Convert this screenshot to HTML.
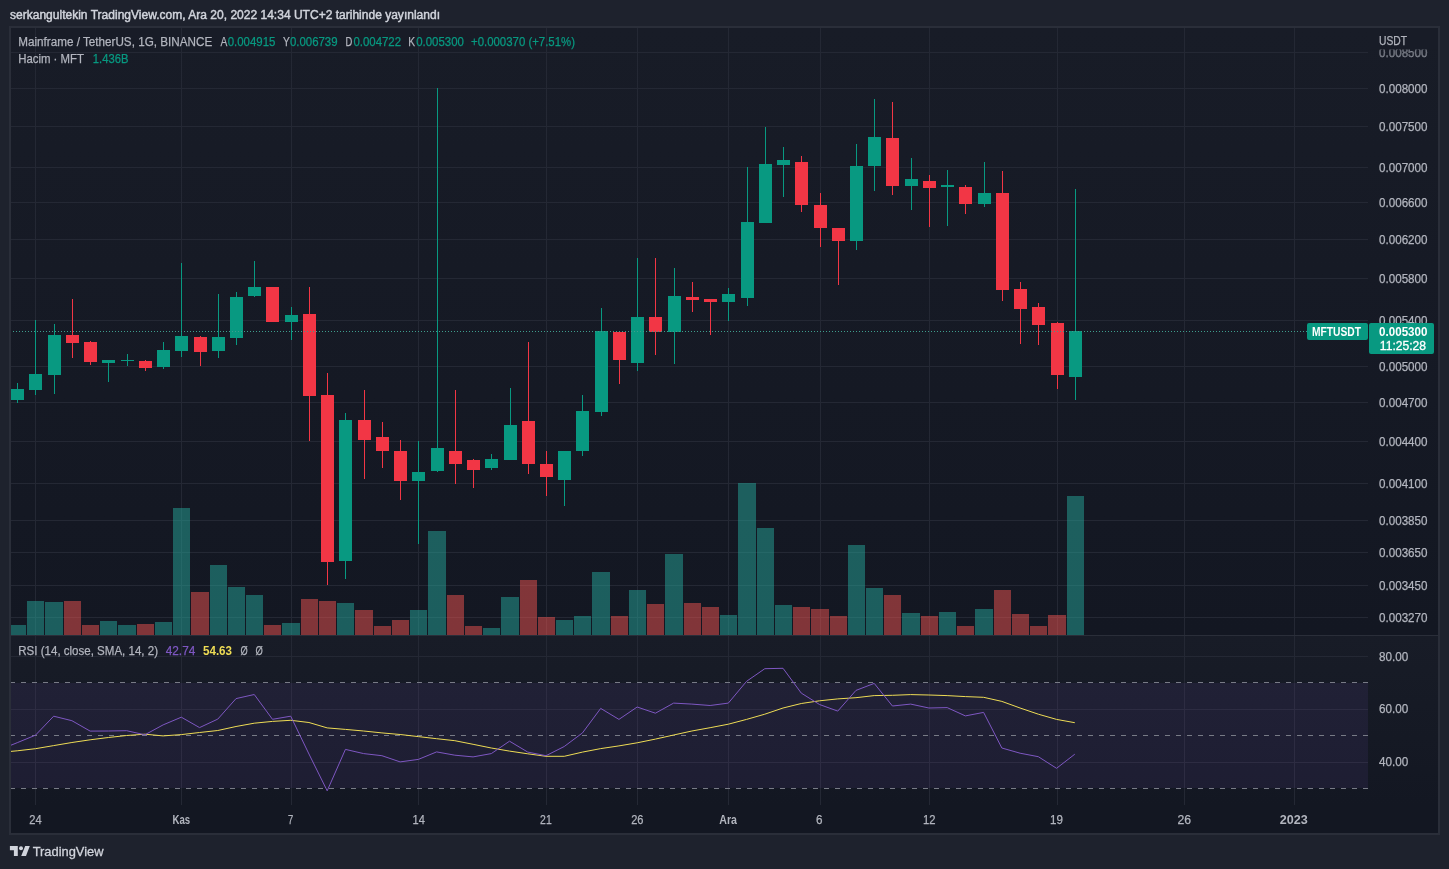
<!DOCTYPE html>
<html><head><meta charset="utf-8"><title>MFTUSDT chart</title>
<style>html,body{margin:0;padding:0;background:#1e222d;width:1449px;height:869px;overflow:hidden}svg{display:block}</style>
</head><body><svg width="1449" height="869" viewBox="0 0 1449 869"><rect x="9" y="26" width="1431" height="809" fill="#2a2e39"/><defs><linearGradient id="gm" x1="0" y1="0" x2="0" y2="1"><stop offset="0" stop-color="#181c27"/><stop offset="1" stop-color="#131722"/></linearGradient></defs><rect x="11" y="28" width="1427" height="805" fill="#131722"/><rect x="11" y="28" width="1427" height="607" fill="url(#gm)"/><rect x="11" y="636" width="1427" height="169" fill="url(#gm)"/><defs><clipPath id="cm"><rect x="11" y="28" width="1357" height="607"/></clipPath><clipPath id="cr"><rect x="11" y="636" width="1357" height="169"/></clipPath></defs><g fill="#242834" shape-rendering="crispEdges"><rect x="35" y="28" width="1" height="777"/><rect x="181" y="28" width="1" height="777"/><rect x="291" y="28" width="1" height="777"/><rect x="418" y="28" width="1" height="777"/><rect x="546" y="28" width="1" height="777"/><rect x="637" y="28" width="1" height="777"/><rect x="728" y="28" width="1" height="777"/><rect x="820" y="28" width="1" height="777"/><rect x="929" y="28" width="1" height="777"/><rect x="1057" y="28" width="1" height="777"/><rect x="1184" y="28" width="1" height="777"/><rect x="1294" y="28" width="1" height="777"/></g><g fill="#242834" shape-rendering="crispEdges"><rect x="11" y="52" width="1357" height="1"/><rect x="11" y="88" width="1357" height="1"/><rect x="11" y="126" width="1357" height="1"/><rect x="11" y="167" width="1357" height="1"/><rect x="11" y="202" width="1357" height="1"/><rect x="11" y="239" width="1357" height="1"/><rect x="11" y="278" width="1357" height="1"/><rect x="11" y="320" width="1357" height="1"/><rect x="11" y="366" width="1357" height="1"/><rect x="11" y="402" width="1357" height="1"/><rect x="11" y="441" width="1357" height="1"/><rect x="11" y="483" width="1357" height="1"/><rect x="11" y="520" width="1357" height="1"/><rect x="11" y="552" width="1357" height="1"/><rect x="11" y="585" width="1357" height="1"/><rect x="11" y="617" width="1357" height="1"/><rect x="11" y="656" width="1357" height="1"/><rect x="11" y="709" width="1357" height="1"/><rect x="11" y="762" width="1357" height="1"/></g><g clip-path="url(#cm)" shape-rendering="crispEdges"><rect x="9" y="625" width="17" height="10" fill="rgba(38,166,154,0.5)"/><rect x="27" y="601" width="17" height="34" fill="rgba(38,166,154,0.5)"/><rect x="45" y="602" width="18" height="33" fill="rgba(38,166,154,0.5)"/><rect x="64" y="601" width="17" height="34" fill="rgba(239,83,80,0.5)"/><rect x="82" y="625" width="17" height="10" fill="rgba(239,83,80,0.5)"/><rect x="100" y="621" width="17" height="14" fill="rgba(38,166,154,0.5)"/><rect x="118" y="625" width="18" height="10" fill="rgba(38,166,154,0.5)"/><rect x="137" y="624" width="17" height="11" fill="rgba(239,83,80,0.5)"/><rect x="155" y="622" width="17" height="13" fill="rgba(38,166,154,0.5)"/><rect x="173" y="508" width="17" height="127" fill="rgba(38,166,154,0.5)"/><rect x="191" y="592" width="18" height="43" fill="rgba(239,83,80,0.5)"/><rect x="210" y="565" width="17" height="70" fill="rgba(38,166,154,0.5)"/><rect x="228" y="587" width="17" height="48" fill="rgba(38,166,154,0.5)"/><rect x="246" y="595" width="17" height="40" fill="rgba(38,166,154,0.5)"/><rect x="264" y="625" width="17" height="10" fill="rgba(239,83,80,0.5)"/><rect x="282" y="623" width="18" height="12" fill="rgba(38,166,154,0.5)"/><rect x="301" y="599" width="17" height="36" fill="rgba(239,83,80,0.5)"/><rect x="319" y="601" width="17" height="34" fill="rgba(239,83,80,0.5)"/><rect x="337" y="603" width="17" height="32" fill="rgba(38,166,154,0.5)"/><rect x="355" y="610" width="18" height="25" fill="rgba(239,83,80,0.5)"/><rect x="374" y="626" width="17" height="9" fill="rgba(239,83,80,0.5)"/><rect x="392" y="620" width="17" height="15" fill="rgba(239,83,80,0.5)"/><rect x="410" y="610" width="17" height="25" fill="rgba(38,166,154,0.5)"/><rect x="428" y="531" width="18" height="104" fill="rgba(38,166,154,0.5)"/><rect x="447" y="595" width="17" height="40" fill="rgba(239,83,80,0.5)"/><rect x="465" y="626" width="17" height="9" fill="rgba(239,83,80,0.5)"/><rect x="483" y="628" width="17" height="7" fill="rgba(38,166,154,0.5)"/><rect x="501" y="597" width="18" height="38" fill="rgba(38,166,154,0.5)"/><rect x="520" y="580" width="17" height="55" fill="rgba(239,83,80,0.5)"/><rect x="538" y="617" width="17" height="18" fill="rgba(239,83,80,0.5)"/><rect x="556" y="620" width="17" height="15" fill="rgba(38,166,154,0.5)"/><rect x="574" y="616" width="17" height="19" fill="rgba(38,166,154,0.5)"/><rect x="592" y="572" width="18" height="63" fill="rgba(38,166,154,0.5)"/><rect x="611" y="616" width="17" height="19" fill="rgba(239,83,80,0.5)"/><rect x="629" y="590" width="17" height="45" fill="rgba(38,166,154,0.5)"/><rect x="647" y="604" width="17" height="31" fill="rgba(239,83,80,0.5)"/><rect x="665" y="554" width="18" height="81" fill="rgba(38,166,154,0.5)"/><rect x="684" y="603" width="17" height="32" fill="rgba(239,83,80,0.5)"/><rect x="702" y="607" width="17" height="28" fill="rgba(239,83,80,0.5)"/><rect x="720" y="615" width="17" height="20" fill="rgba(38,166,154,0.5)"/><rect x="738" y="483" width="18" height="152" fill="rgba(38,166,154,0.5)"/><rect x="757" y="528" width="17" height="107" fill="rgba(38,166,154,0.5)"/><rect x="775" y="605" width="17" height="30" fill="rgba(38,166,154,0.5)"/><rect x="793" y="607" width="17" height="28" fill="rgba(239,83,80,0.5)"/><rect x="811" y="609" width="18" height="26" fill="rgba(239,83,80,0.5)"/><rect x="830" y="616" width="17" height="19" fill="rgba(239,83,80,0.5)"/><rect x="848" y="545" width="17" height="90" fill="rgba(38,166,154,0.5)"/><rect x="866" y="588" width="17" height="47" fill="rgba(38,166,154,0.5)"/><rect x="884" y="595" width="17" height="40" fill="rgba(239,83,80,0.5)"/><rect x="902" y="613" width="18" height="22" fill="rgba(38,166,154,0.5)"/><rect x="921" y="616" width="17" height="19" fill="rgba(239,83,80,0.5)"/><rect x="939" y="612" width="17" height="23" fill="rgba(38,166,154,0.5)"/><rect x="957" y="626" width="17" height="9" fill="rgba(239,83,80,0.5)"/><rect x="975" y="609" width="18" height="26" fill="rgba(38,166,154,0.5)"/><rect x="994" y="590" width="17" height="45" fill="rgba(239,83,80,0.5)"/><rect x="1012" y="614" width="17" height="21" fill="rgba(239,83,80,0.5)"/><rect x="1030" y="626" width="17" height="9" fill="rgba(239,83,80,0.5)"/><rect x="1048" y="615" width="18" height="20" fill="rgba(239,83,80,0.5)"/><rect x="1067" y="496" width="17" height="139" fill="rgba(38,166,154,0.5)"/></g><g clip-path="url(#cm)" shape-rendering="crispEdges"><rect x="17" y="383" width="1" height="20" fill="#089981"/><rect x="11" y="389" width="13" height="11" fill="#089981"/><rect x="35" y="320" width="1" height="75" fill="#089981"/><rect x="29" y="374" width="13" height="16" fill="#089981"/><rect x="54" y="324" width="1" height="70" fill="#089981"/><rect x="48" y="335" width="13" height="40" fill="#089981"/><rect x="72" y="299" width="1" height="59" fill="#f23645"/><rect x="66" y="335" width="13" height="8" fill="#f23645"/><rect x="90" y="341" width="1" height="24" fill="#f23645"/><rect x="84" y="342" width="13" height="20" fill="#f23645"/><rect x="108" y="360" width="1" height="22" fill="#089981"/><rect x="102" y="360" width="13" height="3" fill="#089981"/><rect x="127" y="354" width="1" height="12" fill="#089981"/><rect x="121" y="360" width="13" height="1" fill="#089981"/><rect x="145" y="360" width="1" height="11" fill="#f23645"/><rect x="139" y="361" width="13" height="7" fill="#f23645"/><rect x="163" y="342" width="1" height="27" fill="#089981"/><rect x="157" y="350" width="13" height="17" fill="#089981"/><rect x="181" y="263" width="1" height="94" fill="#089981"/><rect x="175" y="336" width="13" height="15" fill="#089981"/><rect x="200" y="336" width="1" height="30" fill="#f23645"/><rect x="194" y="337" width="13" height="15" fill="#f23645"/><rect x="218" y="294" width="1" height="64" fill="#089981"/><rect x="212" y="337" width="13" height="14" fill="#089981"/><rect x="236" y="292" width="1" height="53" fill="#089981"/><rect x="230" y="297" width="13" height="41" fill="#089981"/><rect x="254" y="261" width="1" height="36" fill="#089981"/><rect x="248" y="287" width="13" height="9" fill="#089981"/><rect x="272" y="287" width="1" height="35" fill="#f23645"/><rect x="266" y="287" width="13" height="35" fill="#f23645"/><rect x="291" y="307" width="1" height="33" fill="#089981"/><rect x="285" y="315" width="13" height="7" fill="#089981"/><rect x="309" y="287" width="1" height="154" fill="#f23645"/><rect x="303" y="314" width="13" height="82" fill="#f23645"/><rect x="327" y="373" width="1" height="212" fill="#f23645"/><rect x="321" y="395" width="13" height="167" fill="#f23645"/><rect x="345" y="413" width="1" height="166" fill="#089981"/><rect x="339" y="420" width="13" height="141" fill="#089981"/><rect x="364" y="390" width="1" height="89" fill="#f23645"/><rect x="358" y="420" width="13" height="20" fill="#f23645"/><rect x="382" y="422" width="1" height="46" fill="#f23645"/><rect x="376" y="437" width="13" height="14" fill="#f23645"/><rect x="400" y="440" width="1" height="60" fill="#f23645"/><rect x="394" y="451" width="13" height="30" fill="#f23645"/><rect x="418" y="441" width="1" height="103" fill="#089981"/><rect x="412" y="472" width="13" height="9" fill="#089981"/><rect x="437" y="88" width="1" height="384" fill="#089981"/><rect x="431" y="448" width="13" height="23" fill="#089981"/><rect x="455" y="390" width="1" height="94" fill="#f23645"/><rect x="449" y="451" width="13" height="13" fill="#f23645"/><rect x="473" y="459" width="1" height="29" fill="#f23645"/><rect x="467" y="460" width="13" height="10" fill="#f23645"/><rect x="491" y="454" width="1" height="16" fill="#089981"/><rect x="485" y="459" width="13" height="9" fill="#089981"/><rect x="510" y="388" width="1" height="72" fill="#089981"/><rect x="504" y="425" width="13" height="35" fill="#089981"/><rect x="528" y="342" width="1" height="132" fill="#f23645"/><rect x="522" y="421" width="13" height="43" fill="#f23645"/><rect x="546" y="451" width="1" height="45" fill="#f23645"/><rect x="540" y="464" width="13" height="13" fill="#f23645"/><rect x="564" y="451" width="1" height="55" fill="#089981"/><rect x="558" y="451" width="13" height="29" fill="#089981"/><rect x="582" y="395" width="1" height="61" fill="#089981"/><rect x="576" y="411" width="13" height="40" fill="#089981"/><rect x="601" y="308" width="1" height="108" fill="#089981"/><rect x="595" y="331" width="13" height="81" fill="#089981"/><rect x="619" y="331" width="1" height="53" fill="#f23645"/><rect x="613" y="332" width="13" height="28" fill="#f23645"/><rect x="637" y="258" width="1" height="113" fill="#089981"/><rect x="631" y="317" width="13" height="46" fill="#089981"/><rect x="655" y="258" width="1" height="97" fill="#f23645"/><rect x="649" y="317" width="13" height="15" fill="#f23645"/><rect x="674" y="268" width="1" height="96" fill="#089981"/><rect x="668" y="296" width="13" height="36" fill="#089981"/><rect x="692" y="282" width="1" height="30" fill="#f23645"/><rect x="686" y="297" width="13" height="3" fill="#f23645"/><rect x="710" y="299" width="1" height="36" fill="#f23645"/><rect x="704" y="299" width="13" height="3" fill="#f23645"/><rect x="728" y="288" width="1" height="33" fill="#089981"/><rect x="722" y="294" width="13" height="8" fill="#089981"/><rect x="747" y="167" width="1" height="139" fill="#089981"/><rect x="741" y="222" width="13" height="76" fill="#089981"/><rect x="765" y="127" width="1" height="96" fill="#089981"/><rect x="759" y="164" width="13" height="59" fill="#089981"/><rect x="783" y="147" width="1" height="50" fill="#089981"/><rect x="777" y="160" width="13" height="5" fill="#089981"/><rect x="801" y="156" width="1" height="56" fill="#f23645"/><rect x="795" y="162" width="13" height="43" fill="#f23645"/><rect x="820" y="193" width="1" height="54" fill="#f23645"/><rect x="814" y="205" width="13" height="23" fill="#f23645"/><rect x="838" y="228" width="1" height="57" fill="#f23645"/><rect x="832" y="228" width="13" height="13" fill="#f23645"/><rect x="856" y="144" width="1" height="106" fill="#089981"/><rect x="850" y="166" width="13" height="75" fill="#089981"/><rect x="874" y="99" width="1" height="92" fill="#089981"/><rect x="868" y="137" width="13" height="29" fill="#089981"/><rect x="892" y="102" width="1" height="93" fill="#f23645"/><rect x="886" y="138" width="13" height="48" fill="#f23645"/><rect x="911" y="158" width="1" height="52" fill="#089981"/><rect x="905" y="179" width="13" height="7" fill="#089981"/><rect x="929" y="175" width="1" height="52" fill="#f23645"/><rect x="923" y="181" width="13" height="7" fill="#f23645"/><rect x="947" y="170" width="1" height="56" fill="#089981"/><rect x="941" y="185" width="13" height="2" fill="#089981"/><rect x="965" y="185" width="1" height="29" fill="#f23645"/><rect x="959" y="187" width="13" height="17" fill="#f23645"/><rect x="984" y="162" width="1" height="45" fill="#089981"/><rect x="978" y="193" width="13" height="11" fill="#089981"/><rect x="1002" y="171" width="1" height="130" fill="#f23645"/><rect x="996" y="193" width="13" height="97" fill="#f23645"/><rect x="1020" y="282" width="1" height="62" fill="#f23645"/><rect x="1014" y="289" width="13" height="20" fill="#f23645"/><rect x="1038" y="303" width="1" height="42" fill="#f23645"/><rect x="1032" y="307" width="13" height="18" fill="#f23645"/><rect x="1057" y="322" width="1" height="67" fill="#f23645"/><rect x="1051" y="323" width="13" height="52" fill="#f23645"/><rect x="1075" y="189" width="1" height="211" fill="#089981"/><rect x="1069" y="331" width="13" height="46" fill="#089981"/></g><line x1="11" y1="331.5" x2="1368" y2="331.5" stroke="#3e9d8d" stroke-width="1" stroke-dasharray="1 2" stroke-dashoffset="1" shape-rendering="crispEdges"/><rect x="11" y="635" width="1427" height="1" fill="#2a2e39"/><rect x="11" y="683" width="1357" height="105" fill="#7e57c2" fill-opacity="0.1"/><line x1="11" y1="682.5" x2="1368" y2="682.5" stroke="#787b86" stroke-width="1" stroke-dasharray="5 6" stroke-dashoffset="1" shape-rendering="crispEdges"/><line x1="11" y1="735.5" x2="1368" y2="735.5" stroke="#787b86" stroke-width="1" stroke-dasharray="5 6" stroke-dashoffset="1" shape-rendering="crispEdges"/><line x1="11" y1="788.5" x2="1368" y2="788.5" stroke="#787b86" stroke-width="1" stroke-dasharray="5 6" stroke-dashoffset="1" shape-rendering="crispEdges"/><g clip-path="url(#cr)"><polyline points="-1.02,752.5 17.22,750.8 35.45,748.7 53.68,745.6 71.92,742.5 90.15,739.8 108.39,737.5 126.62,735.5 144.85,734.2 163.09,735.9 181.32,734.6 199.56,732.5 217.79,730.5 236.02,726.5 254.26,723.2 272.49,721.4 290.73,720.3 308.96,722.5 327.19,727.9 345.43,729.4 363.66,731 381.90,732.9 400.13,734.5 418.36,736.6 436.60,738.7 454.83,740.7 473.07,744.3 491.30,748 509.53,751.1 527.77,753.8 546.00,756.3 564.24,756.3 582.47,752.1 600.70,748.6 618.94,745.9 637.17,742.8 655.41,739.1 673.64,735 691.87,731 710.11,727.7 728.34,724.2 746.58,719.4 764.81,714.2 783.04,708 801.28,703.5 819.51,700.8 837.75,698.9 855.98,697.7 874.21,695.6 892.45,695.3 910.68,694.6 928.92,695 947.15,695.6 965.38,696.6 983.62,697.3 1001.85,701.4 1020.09,708 1038.32,714.2 1056.55,719.4 1074.79,722.7" fill="none" stroke="#eedc55" stroke-width="1" stroke-linejoin="round"/><polyline points="-1.02,750 17.22,742.7 35.45,735.2 53.68,716.2 71.92,720.7 90.15,731.1 108.39,731 126.62,730.7 144.85,734.8 163.09,724.9 181.32,717.2 199.56,727.6 217.79,719.1 236.02,698.6 254.26,694.5 272.49,719.3 290.73,716.2 308.96,754 327.19,790.8 345.43,749.4 363.66,753.6 381.90,755.7 400.13,761.9 418.36,759.4 436.60,751.9 454.83,755.2 473.07,756.9 491.30,753.6 509.53,741.2 527.77,752.1 546.00,755.7 564.24,746.5 582.47,732.9 600.70,708.4 618.94,719.4 637.17,707 655.41,713.2 673.64,703.1 691.87,704.1 710.11,705.5 728.34,703.1 746.58,681.3 764.81,668.7 783.04,668.3 801.28,693.1 819.51,704.5 837.75,711.1 855.98,690.4 874.21,683.4 892.45,706 910.68,704.1 928.92,708 947.15,707.6 965.38,715.9 983.62,712.4 1001.85,748 1020.09,753.2 1038.32,756.7 1056.55,768.3 1074.79,754.2" fill="none" stroke="#7e57c2" stroke-width="1" stroke-linejoin="round"/></g><g font-family="'Liberation Sans', Arial, sans-serif" font-size="12.5" fill="#b2b5be" stroke="#b2b5be" stroke-width="0.25"><text x="1379" y="57.0" textLength="48.5" lengthAdjust="spacingAndGlyphs" fill-opacity="0.45">0.008500</text><text x="1379" y="93.0" textLength="48.5" lengthAdjust="spacingAndGlyphs">0.008000</text><text x="1379" y="131.0" textLength="48.5" lengthAdjust="spacingAndGlyphs">0.007500</text><text x="1379" y="172.0" textLength="48.5" lengthAdjust="spacingAndGlyphs">0.007000</text><text x="1379" y="207.0" textLength="48.5" lengthAdjust="spacingAndGlyphs">0.006600</text><text x="1379" y="244.0" textLength="48.5" lengthAdjust="spacingAndGlyphs">0.006200</text><text x="1379" y="283.0" textLength="48.5" lengthAdjust="spacingAndGlyphs">0.005800</text><text x="1379" y="325.0" textLength="48.5" lengthAdjust="spacingAndGlyphs">0.005400</text><text x="1379" y="371.0" textLength="48.5" lengthAdjust="spacingAndGlyphs">0.005000</text><text x="1379" y="407.0" textLength="48.5" lengthAdjust="spacingAndGlyphs">0.004700</text><text x="1379" y="446.0" textLength="48.5" lengthAdjust="spacingAndGlyphs">0.004400</text><text x="1379" y="488.0" textLength="48.5" lengthAdjust="spacingAndGlyphs">0.004100</text><text x="1379" y="525.0" textLength="48.5" lengthAdjust="spacingAndGlyphs">0.003850</text><text x="1379" y="557.0" textLength="48.5" lengthAdjust="spacingAndGlyphs">0.003650</text><text x="1379" y="590.0" textLength="48.5" lengthAdjust="spacingAndGlyphs">0.003450</text><text x="1379" y="622.0" textLength="48.5" lengthAdjust="spacingAndGlyphs">0.003270</text><text x="1379" y="661.0" textLength="29.3" lengthAdjust="spacingAndGlyphs">80.00</text><text x="1379" y="713.0" textLength="29.3" lengthAdjust="spacingAndGlyphs">60.00</text><text x="1379" y="766.0" textLength="29.3" lengthAdjust="spacingAndGlyphs">40.00</text></g><rect x="1369" y="28" width="69" height="21.5" fill="#181c27"/><text x="1379" y="45" font-family="'Liberation Sans', Arial, sans-serif" font-size="12.5" fill="#b2b5be" stroke="#b2b5be" stroke-width="0.25" textLength="28" lengthAdjust="spacingAndGlyphs">USDT</text><g font-family="'Liberation Sans', Arial, sans-serif" font-size="12.5" fill="#b2b5be" stroke="#b2b5be" stroke-width="0.25"><text x="29.3" y="823.7" textLength="12.4" lengthAdjust="spacingAndGlyphs">24</text><text x="172.6" y="823.7" textLength="17.6" lengthAdjust="spacingAndGlyphs" font-weight="bold" stroke-width="0">Kas</text><text x="288.1" y="823.7" textLength="5.2" lengthAdjust="spacingAndGlyphs">7</text><text x="412.6" y="823.7" textLength="12.3" lengthAdjust="spacingAndGlyphs">14</text><text x="540.1" y="823.7" textLength="11.6" lengthAdjust="spacingAndGlyphs">21</text><text x="631.2" y="823.7" textLength="12.3" lengthAdjust="spacingAndGlyphs">26</text><text x="719.3" y="823.7" textLength="17.7" lengthAdjust="spacingAndGlyphs" font-weight="bold" stroke-width="0">Ara</text><text x="816.1" y="823.7" textLength="6.5" lengthAdjust="spacingAndGlyphs">6</text><text x="923.1" y="823.7" textLength="12.5" lengthAdjust="spacingAndGlyphs">12</text><text x="1050.1" y="823.7" textLength="12.9" lengthAdjust="spacingAndGlyphs">19</text><text x="1177.5" y="823.7" textLength="13.6" lengthAdjust="spacingAndGlyphs">26</text><text x="1279.7" y="823.7" textLength="28" lengthAdjust="spacingAndGlyphs" font-weight="bold" stroke-width="0">2023</text></g><rect x="1307" y="323" width="61" height="17" rx="2" fill="#089981"/><text x="1312" y="336" font-family="'Liberation Sans', Arial, sans-serif" font-size="12.5" font-weight="bold" fill="#ffffff" textLength="49" lengthAdjust="spacingAndGlyphs">MFTUSDT</text><rect x="1369" y="323" width="65" height="31" rx="2" fill="#089981"/><text x="1379.1" y="336" font-family="'Liberation Sans', Arial, sans-serif" font-size="12.5" font-weight="bold" fill="#ffffff" textLength="48.3" lengthAdjust="spacingAndGlyphs">0.005300</text><text x="1379.8" y="350" font-family="'Liberation Sans', Arial, sans-serif" font-size="12.5" fill="#ffffff" stroke="#ffffff" stroke-width="0.3" textLength="46.3" lengthAdjust="spacingAndGlyphs">11:25:28</text><g font-family="'Liberation Sans', Arial, sans-serif"><text x="18.2" y="46" font-size="12.5" fill="#b2b5be" stroke="#b2b5be" stroke-width="0.25" textLength="194" lengthAdjust="spacingAndGlyphs">Mainframe / TetherUS, 1G, BINANCE</text><text x="220.5" y="46" font-size="12.5" fill="#b2b5be" stroke="#b2b5be" stroke-width="0.25" textLength="6.8" lengthAdjust="spacingAndGlyphs">A</text><text x="227.7" y="46" font-size="12.5" fill="#089981" stroke="#089981" stroke-width="0.25" textLength="47.7" lengthAdjust="spacingAndGlyphs">0.004915</text><text x="283.1" y="46" font-size="12.5" fill="#b2b5be" stroke="#b2b5be" stroke-width="0.25" textLength="6.8" lengthAdjust="spacingAndGlyphs">Y</text><text x="289.9" y="46" font-size="12.5" fill="#089981" stroke="#089981" stroke-width="0.25" textLength="47.7" lengthAdjust="spacingAndGlyphs">0.006739</text><text x="345.4" y="46" font-size="12.5" fill="#b2b5be" stroke="#b2b5be" stroke-width="0.25" textLength="6.8" lengthAdjust="spacingAndGlyphs">D</text><text x="353.4" y="46" font-size="12.5" fill="#089981" stroke="#089981" stroke-width="0.25" textLength="47.7" lengthAdjust="spacingAndGlyphs">0.004722</text><text x="408.2" y="46" font-size="12.5" fill="#b2b5be" stroke="#b2b5be" stroke-width="0.25" textLength="6.8" lengthAdjust="spacingAndGlyphs">K</text><text x="416.2" y="46" font-size="12.5" fill="#089981" stroke="#089981" stroke-width="0.25" textLength="47.7" lengthAdjust="spacingAndGlyphs">0.005300</text><text x="471" y="46" font-size="12.5" fill="#089981" stroke="#089981" stroke-width="0.25" textLength="104" lengthAdjust="spacingAndGlyphs">+0.000370 (+7.51%)</text><text x="18.2" y="62.5" font-size="12.5" fill="#b2b5be" stroke="#b2b5be" stroke-width="0.25" textLength="65.7" lengthAdjust="spacingAndGlyphs">Hacim · MFT</text><text x="92.8" y="62.5" font-size="12.5" fill="#089981" stroke="#089981" stroke-width="0.25" textLength="35.6" lengthAdjust="spacingAndGlyphs">1.436B</text><text x="18.3" y="655.3" font-size="12.5" fill="#b2b5be" stroke="#b2b5be" stroke-width="0.25" textLength="139.7" lengthAdjust="spacingAndGlyphs">RSI (14, close, SMA, 14, 2)</text><text x="165.7" y="655.3" font-size="12.5" fill="#7e57c2" stroke="#7e57c2" stroke-width="0.25" textLength="29.6" lengthAdjust="spacingAndGlyphs">42.74</text><text x="203" y="655.3" font-size="12.5" fill="#eedc55" font-weight="bold" textLength="29" lengthAdjust="spacingAndGlyphs">54.63</text><text x="240.4" y="655.3" font-size="12.5" fill="#b2b5be" stroke="#b2b5be" stroke-width="0.25" textLength="7.2" lengthAdjust="spacingAndGlyphs">Ø</text><text x="255.6" y="655.3" font-size="12.5" fill="#b2b5be" stroke="#b2b5be" stroke-width="0.25" textLength="7.3" lengthAdjust="spacingAndGlyphs">Ø</text></g><text x="10" y="18.6" font-family="'Liberation Sans', Arial, sans-serif" font-size="12" fill="#d1d4dc" stroke="#d1d4dc" stroke-width="0.45" textLength="430" lengthAdjust="spacingAndGlyphs">serkangultekin TradingView.com, Ara 20, 2022 14:34 UTC+2 tarihinde yayınlandı</text><g fill="#d1d4dc"><path d="M9.9,846 H17.8 V856 H13.9 V850.2 H9.9 Z"/><circle cx="21" cy="848.3" r="2"/><path d="M25.2,846 H29.8 L26,856 H21.2 Z"/></g><text x="32.7" y="856" font-family="'Liberation Sans', Arial, sans-serif" font-size="13" fill="#d1d4dc" stroke="#d1d4dc" stroke-width="0.3" textLength="70.8" lengthAdjust="spacingAndGlyphs">TradingView</text></svg></body></html>
